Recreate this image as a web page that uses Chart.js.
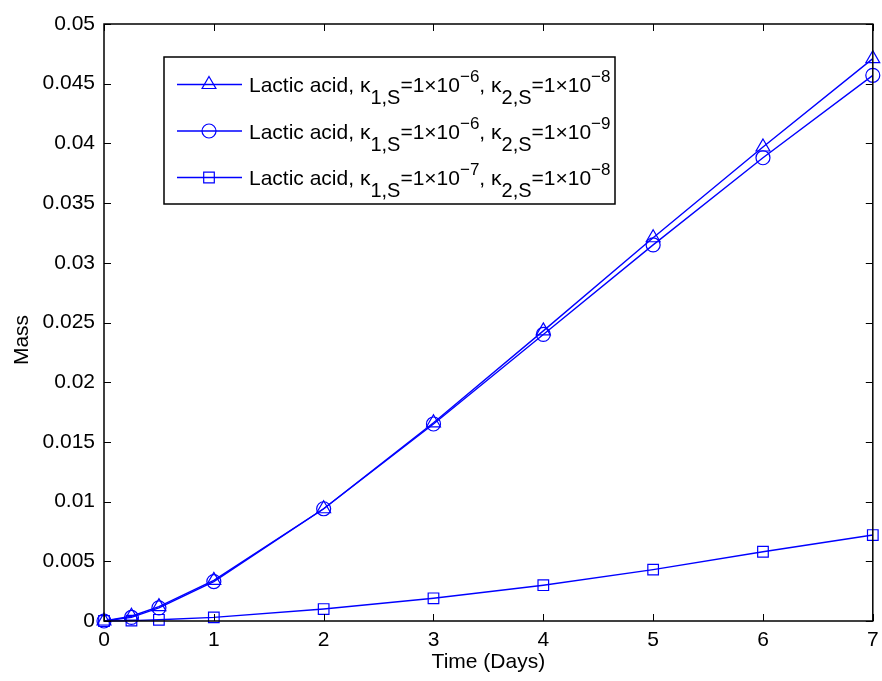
<!DOCTYPE html>
<html>
<head>
<meta charset="utf-8">
<title>Lactic acid mass</title>
<script src="https://cdn.jsdelivr.net/npm/chart.js@4.4.1/dist/chart.umd.min.js"></script>
<style>
    html, body { margin: 0; padding: 0; background: #fff; }
    canvas { display: block; }
</style>
</head>
<body>
<canvas id="mass-chart" width="882" height="681"></canvas>
<script>
// sample times (days) and lactic acid mass for each pair of rate constants
const days = [0, 0.25, 0.5, 1, 2, 3, 4, 5, 6, 7];
const massK6K8 = [0, 0.0004, 0.0012, 0.0034, 0.0094, 0.0166, 0.0243, 0.0321, 0.0397, 0.0471];
const massK6K9 = [0, 0.0003, 0.0011, 0.0033, 0.0094, 0.0165, 0.0240, 0.0315, 0.0388, 0.0457];
const massK7K8 = [0, 0.00003, 0.0001, 0.0003, 0.0010, 0.0019, 0.0030, 0.0043, 0.0058, 0.0072];

// exponents of kappa_1,S and kappa_2,S shown in the legend
const kappa1Exp = ['\u22126', '\u22126', '\u22127'];
const kappa2Exp = ['\u22128', '\u22129', '\u22128'];
const markerStyles = ['triangle', 'circle', 'rect'];
const markerSizes = [8, 7, 7.5];

const FONT = "'Liberation Sans', Arial, Helvetica, sans-serif";
const BLUE = 'rgb(0, 0, 255)';

(function () {
    // inward ticks on all four sides plus the box, y label, legend
    const axesBox = {
        id: 'axesBox',
        afterDatasetsDraw(chart) {
            const { ctx, chartArea: a, scales } = chart;
            const len = 7;
            ctx.save();
            ctx.strokeStyle = '#000';
            ctx.lineWidth = 1;
            ctx.beginPath();
            scales.x.ticks.forEach((t) => {
                const px = Math.round(scales.x.getPixelForValue(t.value)) + 0.5;
                ctx.moveTo(px, a.bottom); ctx.lineTo(px, a.bottom - len);
                ctx.moveTo(px, a.top); ctx.lineTo(px, a.top + len);
            });
            scales.y.ticks.forEach((t) => {
                const py = Math.round(scales.y.getPixelForValue(t.value)) + 0.5;
                ctx.moveTo(a.left, py); ctx.lineTo(a.left + len, py);
                ctx.moveTo(a.right, py); ctx.lineTo(a.right - len, py);
            });
            ctx.stroke();
            ctx.lineWidth = 1.5;
            ctx.strokeRect(a.left, a.top, a.right - a.left, a.bottom - a.top);

            // y axis label
            ctx.translate(22, 340);
            ctx.rotate(-Math.PI / 2);
            ctx.fillStyle = '#000';
            ctx.font = '21px ' + FONT;
            ctx.textAlign = 'center';
            ctx.textBaseline = 'middle';
            ctx.fillText('Mass', 0, 0);
            ctx.restore();
        },
        afterDraw(chart) {
            drawLegend(chart);
        },
    };

    main();

    function main() {
        const series = [massK6K8, massK6K9, massK7K8];
        const datasets = series.map((values, i) => ({
            label: 'Lactic acid',
            data: days.map((d, j) => ({ x: d, y: values[j] })),
            borderColor: BLUE,
            backgroundColor: 'rgba(0, 0, 0, 0)',
            borderWidth: 1.4,
            pointStyle: markerStyles[i],
            pointRadius: markerSizes[i],
            pointBorderWidth: 1.2,
            pointBorderColor: BLUE,
            pointBackgroundColor: 'rgba(0, 0, 0, 0)',
            tension: 0,
            clip: false,
        }));

        renderChart(datasets);
    }

    function legendParts(i) {
        return [
            { text: 'Lactic acid, \u03BA', kind: 'main' },
            { text: '1,S', kind: 'sub' },
            { text: '=1\u00D710', kind: 'main' },
            { text: kappa1Exp[i], kind: 'sup' },
            { text: ', \u03BA', kind: 'main' },
            { text: '2,S', kind: 'sub' },
            { text: '=1\u00D710', kind: 'main' },
            { text: kappa2Exp[i], kind: 'sup' },
        ];
    }

    function drawLegend(chart) {
        const ctx = chart.ctx;
        const box = { left: 164, top: 57, right: 615, bottom: 204 };
        ctx.save();
        ctx.fillStyle = '#fff';
        ctx.fillRect(box.left, box.top, box.right - box.left, box.bottom - box.top);
        ctx.strokeStyle = '#000';
        ctx.lineWidth = 1.5;
        ctx.strokeRect(box.left, box.top, box.right - box.left, box.bottom - box.top);

        chart.data.datasets.forEach((ds, i) => {
            const baseline = 92 + i * 46.5;
            const midY = baseline - 7.5;

            ctx.strokeStyle = ds.borderColor;
            ctx.lineWidth = ds.borderWidth;
            ctx.beginPath();
            ctx.moveTo(177, midY);
            ctx.lineTo(242, midY);
            ctx.stroke();

            ctx.fillStyle = 'rgba(0, 0, 0, 0)';
            ctx.lineWidth = ds.pointBorderWidth;
            Chart.helpers.drawPoint(ctx, {
                pointStyle: ds.pointStyle,
                radius: ds.pointRadius,
                rotation: 0,
                borderWidth: ds.pointBorderWidth,
            }, 209, midY);

            let x = 249;
            ctx.fillStyle = '#000';
            ctx.textBaseline = 'alphabetic';
            ctx.textAlign = 'left';
            legendParts(i).forEach((p) => {
                let y = baseline;
                let size = 21;
                if (p.kind === 'sub') { y += 12; size = 20; }
                if (p.kind === 'sup') { y -= 10; size = 17; }
                ctx.font = size + 'px ' + FONT;
                ctx.fillText(p.text, x, y);
                x += ctx.measureText(p.text).width;
            });
        });
        ctx.restore();
    }

    function renderChart(datasets) {
        const ctx = document.getElementById('mass-chart');

        new Chart(ctx, {
            type: 'line',
            data: { datasets: datasets },
            plugins: [axesBox],
            options: {
                responsive: false,
                animation: false,
                devicePixelRatio: 1,
                layout: { padding: { left: 0, right: 3, top: 24, bottom: 0 } },
                plugins: {
                    legend: { display: false },
                    tooltip: { enabled: false },
                },
                scales: {
                    x: {
                        type: 'linear',
                        min: 0,
                        max: 7,
                        grid: { display: false, drawTicks: false },
                        border: { display: false },
                        ticks: {
                            stepSize: 1,
                            padding: 7,
                            color: '#000',
                            maxRotation: 0,
                            font: { family: FONT, size: 21 },
                        },
                        title: {
                            display: true,
                            text: 'Time (Days)',
                            color: '#000',
                            padding: { top: 0, bottom: 6 },
                            font: { family: FONT, size: 21 },
                        },
                        afterFit(scale) {
                            scale.height = 60;
                            scale.paddingLeft = 0;
                            scale.paddingRight = 0;
                        },
                    },
                    y: {
                        type: 'linear',
                        min: 0,
                        max: 0.05,
                        grid: { display: false, drawTicks: false },
                        border: { display: false },
                        ticks: {
                            stepSize: 0.005,
                            padding: 9,
                            color: '#000',
                            font: { family: FONT, size: 21 },
                            callback: (v) => String(Number(v.toFixed(3))),
                        },
                        afterFit(scale) {
                            scale.width = 104;
                            scale.paddingTop = 0;
                            scale.paddingBottom = 0;
                        },
                    },
                },
            },
        });
    }
})();
</script>
</body>
</html>
